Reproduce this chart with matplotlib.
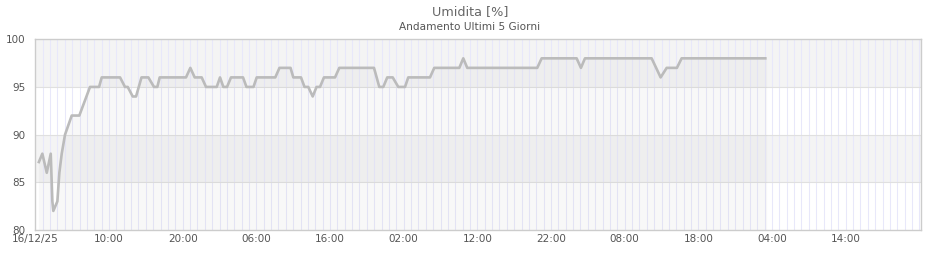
import numpy as np
import matplotlib
matplotlib.use("Agg")
import matplotlib.pyplot as plt

# hours since 16/12/25 00:00 and humidity (%) at the line's break points
hours = [0.41, 0.95, 1.55, 2.09, 2.31, 2.44, 2.99, 3.26, 3.58, 4.03, 4.94, 5.97,
         7.42, 8.65, 9.01, 11.50, 12.17, 12.54, 13.22, 13.67, 14.41, 15.34, 16.11,
         16.56, 16.88, 20.45, 21.04, 21.63, 22.58, 23.17, 24.62, 25.07, 25.52,
         26.02, 26.56, 28.19, 28.66, 29.61, 30.05, 32.57, 33.14, 34.64, 35.02,
         36.06, 36.54, 37.05, 37.65, 38.17, 38.64, 39.18, 40.68, 41.26, 45.97,
         46.69, 47.23, 47.77, 48.51, 49.27, 50.18, 50.62, 53.57, 54.15, 57.55,
         58.09, 58.63, 68.13, 68.73, 73.48, 74.06, 74.61, 83.66, 84.88, 85.70,
         87.09, 87.73, 99.27]
humidity = [87, 88, 86, 88, 83, 82, 83, 86, 88, 90, 92, 92,
            95, 95, 96, 96, 95, 95, 94, 94, 96, 96, 95,
            95, 96, 96, 97, 96, 96, 95, 95, 96, 95,
            95, 96, 96, 95, 95, 96, 96, 97, 97, 96,
            96, 95, 95, 94, 95, 95, 96, 96, 97, 97,
            95, 95, 96, 96, 95, 95, 96, 96, 97, 97,
            98, 97, 97, 98, 98, 97, 98, 98, 96, 97,
            97, 98, 98]

tick_hours = [0, 10, 20, 30, 40, 50, 60, 70, 80, 90, 100, 110]
tick_labels = ["16/12/25", "10:00", "20:00", "06:00", "16:00", "02:00",
               "12:00", "22:00", "08:00", "18:00", "04:00", "14:00"]
y_ticks = [80, 85, 90, 95, 100]

fig = plt.figure(figsize=(9.4, 2.6), dpi=100)
ax = fig.add_axes([0.0376, 0.1154, 0.942, 0.7336])

# alternating bands
ax.axhspan(95, 100, color="#f4f4f4", lw=0, zorder=0)
ax.axhspan(85, 90, color="#f4f4f4", lw=0, zorder=0)

# hourly vertical grid
for h in range(1, 121):
    ax.axvline(h, color="#e8e8fa", lw=0.75, zorder=1)
for v in [85, 90, 95]:
    ax.axhline(v, color="#e0e0e0", lw=0.8, zorder=1)

ax.fill_between(hours, humidity, 80, color="#888888", alpha=0.05, lw=0, zorder=2)
ax.plot(hours, humidity, color="#bbbbbb", lw=1.9, zorder=3,
        solid_joinstyle="round", solid_capstyle="butt")

ax.set_xlim(0, 120.2)
ax.set_ylim(80, 100)
ax.set_xticks(tick_hours)
ax.set_xticklabels(tick_labels)
ax.set_yticks(y_ticks)
ax.tick_params(axis="both", length=0, labelsize=7.5, labelcolor="#555555")
ax.tick_params(axis="y", pad=7)
ax.tick_params(axis="x", pad=3)
for s in ax.spines.values():
    s.set_color("#cccccc")
    s.set_linewidth(1)

fig.text(0.5, 1 - 12 / 260, "Umidita [%]", ha="center", va="center",
         fontsize=9.2, color="#666666")
fig.text(0.5, 1 - 27 / 260, "Andamento Ultimi 5 Giorni", ha="center",
         va="center", fontsize=7.6, color="#555555")

fig.savefig("out.png", dpi=100)
